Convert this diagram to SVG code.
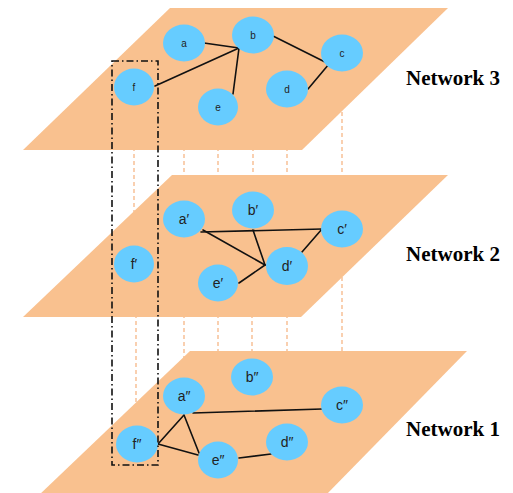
<svg xmlns="http://www.w3.org/2000/svg" width="513" height="493" viewBox="0 0 513 493">
  <style>
    .plane { fill: #F9C18F; }
    .link { stroke: #F4A970; stroke-width: 1.1; stroke-dasharray: 4 3; fill: none; }
    .node ellipse { fill: #66CCFF; }
    .small { font-family: "Liberation Sans", "DejaVu Sans", sans-serif; font-size: 10px; fill: #222; text-anchor: middle; }
    .big { font-family: "Liberation Sans", "DejaVu Sans", sans-serif; font-size: 14px; fill: #222; text-anchor: middle; }
    .edge { stroke: #111; stroke-width: 1.6; fill: none; stroke-linecap: round; }
    .title { font-family: "Liberation Serif", "Times New Roman", serif; font-size: 21px; font-weight: bold; fill: #000; }
    .frame { fill: none; stroke: #111; stroke-width: 1.6; stroke-dasharray: 7 3 1.5 3; }
  </style>

  <!-- vertical correspondence links between layers (drawn behind the planes) -->
  <g id="layer-links">
    <line class="link" x1="134" y1="140" x2="134" y2="215"/>
    <line class="link" x1="184" y1="140" x2="184" y2="185"/>
    <line class="link" x1="218" y1="140" x2="218" y2="185"/>
    <line class="link" x1="253" y1="140" x2="253" y2="185"/>
    <line class="link" x1="287" y1="140" x2="287" y2="185"/>
    <line class="link" x1="342" y1="105" x2="342" y2="185"/>
    <line class="link" x1="136" y1="307" x2="136" y2="405"/>
    <line class="link" x1="184" y1="307" x2="184" y2="360"/>
    <line class="link" x1="218" y1="307" x2="218" y2="360"/>
    <line class="link" x1="252" y1="307" x2="252" y2="360"/>
    <line class="link" x1="287" y1="307" x2="287" y2="360"/>
    <line class="link" x1="342" y1="270" x2="342" y2="360"/>
  </g>

  <!-- layer planes -->
  <g id="planes">
    <polygon class="plane" points="170,8 448,8 302,150 23,150"/>
    <polygon class="plane" points="172,175 448,175 301,317 23,317"/>
    <polygon class="plane" points="190,351 467,351 325,496 38,496"/>
  </g>

  <!-- edges -->
  <g id="edges">
    <!-- Network 3 -->
    <line class="edge" x1="204" y1="43" x2="239" y2="48"/>
    <line class="edge" x1="155" y1="86" x2="239" y2="48"/>
    <line class="edge" x1="233" y1="94" x2="239" y2="48"/>
    <line class="edge" x1="273" y1="36" x2="329" y2="64"/>
    <line class="edge" x1="308" y1="89" x2="329" y2="64"/>
    <!-- Network 2 -->
    <line class="edge" x1="201" y1="232" x2="322" y2="229"/>
    <line class="edge" x1="203" y1="230" x2="265" y2="265"/>
    <line class="edge" x1="253" y1="230" x2="265" y2="265"/>
    <line class="edge" x1="322" y1="229" x2="302" y2="252"/>
    <line class="edge" x1="239" y1="283" x2="265" y2="265"/>
    <!-- Network 1 -->
    <line class="edge" x1="193" y1="413" x2="322" y2="409"/>
    <line class="edge" x1="184" y1="415" x2="158" y2="444"/>
    <line class="edge" x1="184" y1="415" x2="199" y2="453"/>
    <line class="edge" x1="158" y1="444" x2="198" y2="455"/>
    <line class="edge" x1="239" y1="458" x2="271" y2="454"/>
  </g>

  <!-- Network 3 nodes -->
  <g id="n3-a" class="node"><ellipse cx="184" cy="43" rx="21" ry="18.5"/><text class="small" x="184" y="47">a</text></g>
  <g id="n3-b" class="node"><ellipse cx="253" cy="35" rx="21" ry="18.5"/><text class="small" x="253" y="39">b</text></g>
  <g id="n3-c" class="node"><ellipse cx="342" cy="53" rx="21" ry="18.5"/><text class="small" x="342" y="57">c</text></g>
  <g id="n3-d" class="node"><ellipse cx="287" cy="89" rx="21" ry="18.5"/><text class="small" x="287" y="93">d</text></g>
  <g id="n3-e" class="node"><ellipse cx="218" cy="107" rx="20" ry="18.5"/><text class="small" x="218" y="111">e</text></g>
  <g id="n3-f" class="node"><ellipse cx="134" cy="87" rx="20" ry="18.5"/><text class="small" x="134" y="91">f</text></g>

  <!-- Network 2 nodes -->
  <g id="n2-a" class="node"><ellipse cx="184" cy="219" rx="21" ry="18.5"/><text class="big" x="184" y="224">a′</text></g>
  <g id="n2-b" class="node"><ellipse cx="253" cy="210" rx="21" ry="18.5"/><text class="big" x="253" y="215">b′</text></g>
  <g id="n2-c" class="node"><ellipse cx="342" cy="229" rx="21" ry="18.5"/><text class="big" x="342" y="234">c′</text></g>
  <g id="n2-d" class="node"><ellipse cx="287" cy="266" rx="21" ry="19"/><text class="big" x="287" y="271">d′</text></g>
  <g id="n2-e" class="node"><ellipse cx="218" cy="283" rx="20" ry="18.5"/><text class="big" x="218" y="288">e′</text></g>
  <g id="n2-f" class="node"><ellipse cx="134" cy="264" rx="20" ry="18.5"/><text class="big" x="134" y="269">f′</text></g>

  <!-- Network 1 nodes -->
  <g id="n1-a" class="node"><ellipse cx="184" cy="396" rx="21" ry="18.5"/><text class="big" x="184" y="401">a″</text></g>
  <g id="n1-b" class="node"><ellipse cx="252" cy="377" rx="21" ry="18.5"/><text class="big" x="252" y="382">b″</text></g>
  <g id="n1-c" class="node"><ellipse cx="342" cy="405" rx="21" ry="18.5"/><text class="big" x="342" y="410">c″</text></g>
  <g id="n1-d" class="node"><ellipse cx="287" cy="442" rx="21" ry="18.5"/><text class="big" x="287" y="447">d″</text></g>
  <g id="n1-e" class="node"><ellipse cx="218" cy="460" rx="20" ry="18.5"/><text class="big" x="218" y="465">e″</text></g>
  <g id="n1-f" class="node"><ellipse cx="137" cy="444" rx="21" ry="18.5"/><text class="big" x="137" y="449">f″</text></g>

  <!-- grouping frame around the f nodes -->
  <rect id="f-group" class="frame" x="112" y="61" width="46" height="404"/>

  <!-- layer titles -->
  <g id="titles">
    <text class="title" x="406" y="85">Network 3</text>
    <text class="title" x="406" y="261">Network 2</text>
    <text class="title" x="406" y="436">Network 1</text>
  </g>
</svg>
